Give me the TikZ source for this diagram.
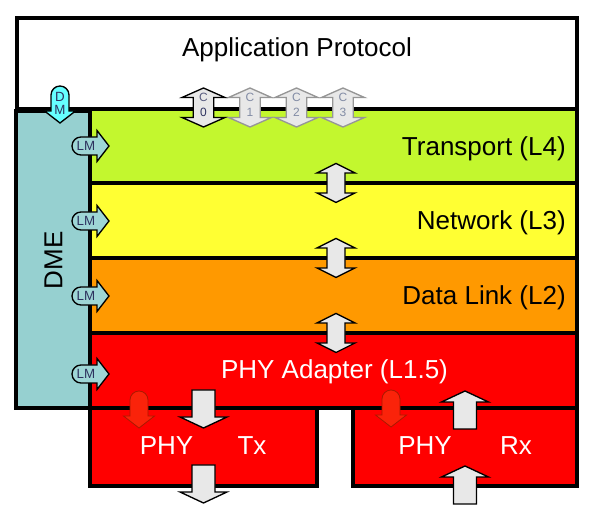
\documentclass[tikz,border=0pt]{standalone}
\usepackage{fontspec}
\setmainfont{Liberation Sans}
\usetikzlibrary{positioning}

\definecolor{transportgreen}{RGB}{195,247,46}
\definecolor{networkyellow}{RGB}{255,255,51}
\definecolor{linkorange}{RGB}{255,153,0}
\definecolor{phyred}{RGB}{255,0,0}
\definecolor{dmeteal}{RGB}{150,208,208}
\definecolor{lmteal}{RGB}{158,214,214}
\definecolor{dmcyan}{RGB}{102,255,255}
\definecolor{arrowgrey}{RGB}{232,232,232}
\definecolor{cportgrey}{RGB}{150,150,150}
\definecolor{cporttext}{RGB}{130,140,165}
\definecolor{navytext}{RGB}{45,50,95}
\definecolor{tagred}{RGB}{250,35,10}
\definecolor{tagredline}{RGB}{170,25,0}

\tikzset{
  layer/.style={draw=black, line width=3pt, line join=miter},
  bigtext/.style={font=\fontsize{19.5}{23}\selectfont, inner sep=0pt},
  bigarrow/.style={draw=black, fill=arrowgrey, line width=1pt, line join=miter},
  tagarrow/.style={draw=black, line width=1pt},
  lmtext/.style={font=\fontsize{10}{12}\selectfont, text=navytext, inner sep=0pt},
  ctext/.style={font=\fontsize{9}{11}\selectfont, inner sep=0pt}
}

% two-headed block arrow, centred at (#2,#3)
\newcommand{\twowayarrow}[3][]{%
  \draw[bigarrow,shift={(#2,#3)},#1] (0,-19.5) -- (19,-10) -- (9,-10) -- (9,10) -- (19,10)
    -- (0,19.5) -- (-19,10) -- (-9,10) -- (-9,-10) -- (-19,-10) -- cycle;}
% block arrow with flat tail, tip at (#2,#3), pointing down
\newcommand{\flatarrow}[3][]{%
  \draw[bigarrow,shift={(#2,#3)},#1] (0,0) -- (23.5,-11) -- (11.5,-11) -- (11.5,-38)
    -- (-11.5,-38) -- (-11.5,-11) -- (-23.5,-11) -- cycle;}
% block arrow with round tail, tip at (#2,#3), pointing down
\newcommand{\roundarrow}[3][]{%
  \draw[tagarrow,shift={(#2,#3)},#1] (0,0) -- (15.5,-12) -- (9,-12) -- (9,-28)
    arc[start angle=0, end angle=-180, radius=9] -- (-9,-12) -- (-15.5,-12) -- cycle;}

\begin{document}
\begin{tikzpicture}[x=0.75pt,y=-0.75pt]
\useasboundingbox (0,0) rectangle (601,505);

% application
\draw[layer,fill=white] (17,18) rectangle (577,109);
\node[bigtext,anchor=base] (app) at (297,57) {Application Protocol};

% stack
\foreach \ytop/\ybot/\col/\nm/\lbl in {109/183/transportgreen/transport/{Transport (L4)},
    183/258/networkyellow/network/{Network (L3)}, 258/333/linkorange/datalink/{Data Link (L2)}}{
  \draw[layer,fill=\col] (90,\ytop) rectangle (577,\ybot);
  \node[bigtext,anchor=base east] (\nm) at (566,{(\ytop+\ybot)/2+9.5}) {\lbl};
}
\draw[layer,fill=phyred] (90,408) rectangle (317,486);
\draw[layer,fill=phyred] (353,408) rectangle (577,486);
\draw[layer,fill=phyred] (90,333) rectangle (577,408);
\node[bigtext,text=white,anchor=base] (adapter) at (334.5,378.5) {PHY Adapter (L1.5)};
\node[bigtext,text=white,anchor=base] (txphy) at (166.5,455) {PHY};
\node[bigtext,text=white,anchor=base] (tx) at (252,455) {Tx};
\node[bigtext,text=white,anchor=base] (rxphy) at (425,455) {PHY};
\node[bigtext,text=white,anchor=base] (rx) at (516,455) {Rx};

% DME
\draw[layer,fill=dmeteal] (16,111) rectangle (90,408);
\node[bigtext,rotate=90,anchor=base] (dme) at (62.5,260.5) {DME};

% arrows between layers
\foreach \ay in {183,258,333}
  \twowayarrow{336}{\ay};

% C ports
\foreach \cx/\cnum in {343/3,296.5/2,250/1}{
  \twowayarrow[xscale=1.13,draw=cportgrey]{\cx}{107.5}
  \node[ctext,text=cporttext] (c\cnum-top) at (\cx,97) {C};
  \node[ctext,text=cporttext] (c\cnum-bot) at (\cx,112) {\cnum};
}
\twowayarrow[xscale=1.13]{203.5}{107.5}
\node[ctext,text=navytext!80] (c0-top) at (203.5,97) {C};
\node[ctext,text=navytext] (c0-bot) at (203.5,112) {0};

% DM and LM
\roundarrow[fill=dmcyan]{60}{123}
\node[lmtext] (dm-d) at (60,97) {D};
\node[lmtext] (dm-m) at (60,110) {M};
\foreach \ly [count=\i] in {146,221,296,374}{
  \roundarrow[rotate=90,fill=lmteal]{109}{\ly}
  \node[lmtext] (lm\i) at (86,\ly) {LM};
}

% PHY arrows
\roundarrow[fill=tagred,draw=tagredline,line width=0.6pt]{139}{428}
\roundarrow[fill=tagred,draw=tagredline,line width=0.6pt]{391}{427}
\flatarrow{203.5}{428}
\flatarrow{203.5}{503}
\flatarrow[rotate=180]{465}{391}
\flatarrow[rotate=180]{465}{466}
\end{tikzpicture}
\end{document}
